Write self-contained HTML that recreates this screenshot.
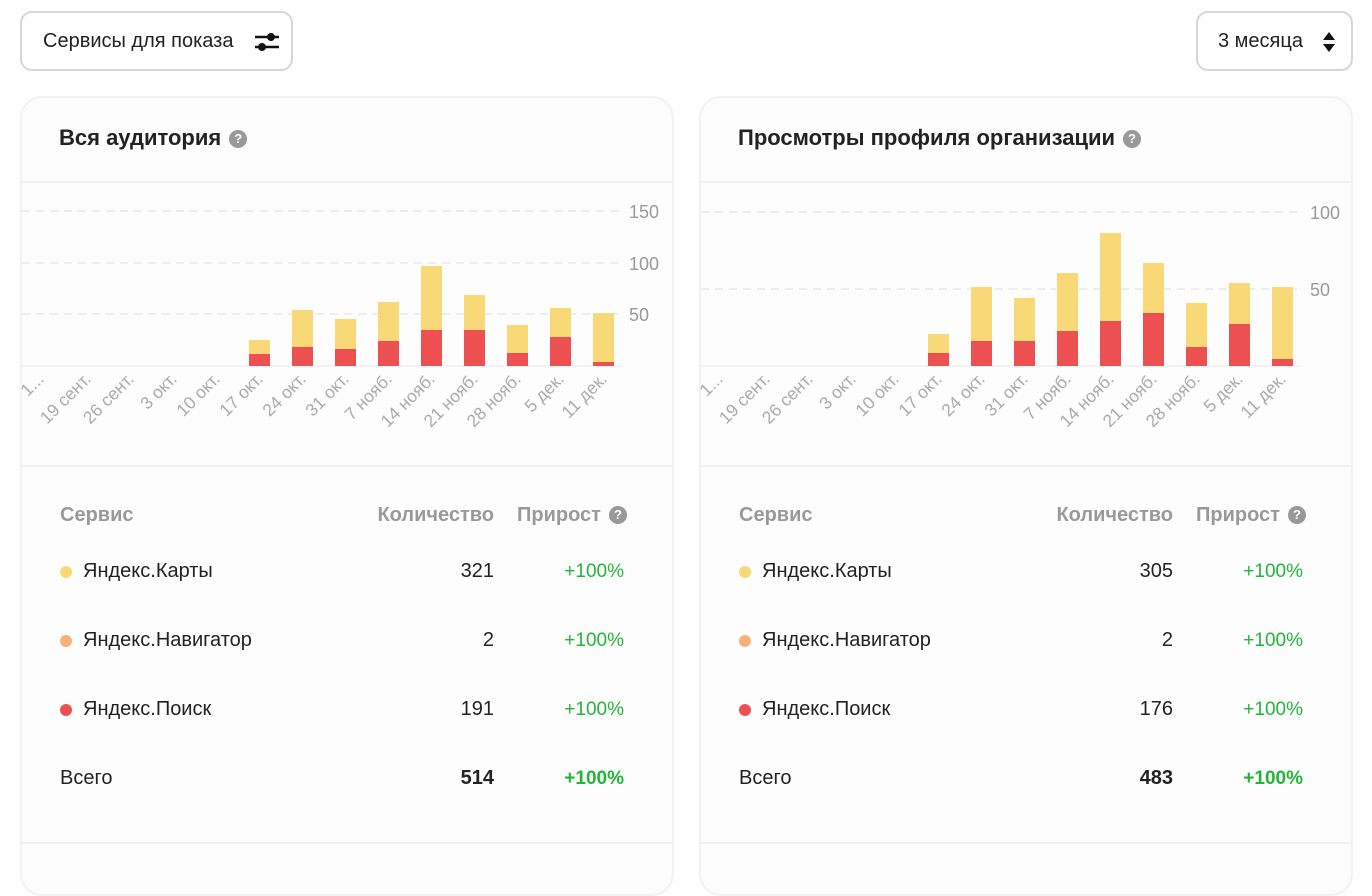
<!DOCTYPE html>
<html><head><meta charset="utf-8">
<style>
body{margin:0;width:1372px;height:858px;background:#fff;font-family:"Liberation Sans",sans-serif;position:relative;overflow:hidden;color:#222}
.btn{position:absolute;border:2px solid #d6d6d6;border-radius:12px;background:#fff;font-size:20px;box-sizing:border-box}
.panel{position:absolute;top:96px;width:654px;height:800px;border:2px solid #f2f2f2;border-radius:22px;box-sizing:border-box;background:#fdfdfd}
.hl{position:absolute;height:2px;background:#f0f0f0}
.t{position:absolute;white-space:nowrap}
.title{font-size:22px;font-weight:bold;color:#222;top:125px}
.q{display:inline-block;width:18px;height:18px;border-radius:50%;background:#999;color:#fff;font-size:13px;font-weight:bold;text-align:center;line-height:18px;vertical-align:2px;margin-left:8px}
.th{font-size:20px;font-weight:bold;color:#999;top:504px}
.row{font-size:20px;color:#222}
.g{color:#22b53a;font-size:19px}
.dot{position:absolute;width:12px;height:12px;border-radius:50%}
</style></head><body>
<div class="btn" style="left:20px;top:11px;width:273px;height:60px;line-height:56px;padding-left:21px">Сервисы для показа
<svg width="26" height="24" style="position:absolute;left:232px;top:17px"><line x1="1" y1="7" x2="25" y2="7" stroke="#111" stroke-width="2.5"/><circle cx="17" cy="7" r="4" fill="#111"/><line x1="1" y1="17" x2="25" y2="17" stroke="#111" stroke-width="2.5"/><circle cx="8" cy="17" r="4" fill="#111"/></svg></div>
<div class="btn" style="left:1196px;top:11px;width:157px;height:60px;line-height:56px;padding-left:20px">3 месяца
<svg width="14" height="24" style="position:absolute;left:124px;top:17px"><polygon points="7,2 13,10 1,10" fill="#111"/><polygon points="7,22 13,14 1,14" fill="#111"/></svg></div>

<div class="panel" style="left:20px"></div>
<div class="panel" style="left:699px"></div>
<div class="hl" style="left:22px;top:181px;width:650px"></div>
<div class="hl" style="left:701px;top:181px;width:650px"></div>
<div class="hl" style="left:22px;top:465px;width:650px"></div>
<div class="hl" style="left:701px;top:465px;width:650px"></div>
<div class="hl" style="left:22px;top:842px;width:650px"></div>
<div class="hl" style="left:701px;top:842px;width:650px"></div>

<div class="t title" style="left:59px">Вся аудитория<span class="q">?</span></div>
<div class="t title" style="left:738px">Просмотры профиля организации<span class="q">?</span></div>

<svg width="1372" height="858" style="position:absolute;left:0;top:0" font-family="Liberation Sans, sans-serif">
<g stroke="#e8e8e8" stroke-width="1.5" stroke-dasharray="8,6">
<line x1="22" y1="211" x2="622" y2="211"/><line x1="22" y1="263" x2="622" y2="263"/><line x1="22" y1="314" x2="622" y2="314"/>
<line x1="701" y1="212" x2="1300" y2="212"/><line x1="701" y1="289" x2="1300" y2="289"/>
</g>
<line x1="22" y1="366" x2="622" y2="366" stroke="#eee" stroke-width="1.5"/>
<line x1="701" y1="366" x2="1300" y2="366" stroke="#eee" stroke-width="1.5"/>
<g fill="#999" font-size="18">
<text x="629" y="218">150</text><text x="629" y="270">100</text><text x="629" y="321">50</text>
<text x="1310" y="219">100</text><text x="1310" y="296">50</text>
</g>
<g fill="#f9d977">
<rect x="249" y="340" width="21" height="26"/><rect x="292" y="310" width="21" height="56"/><rect x="335" y="319" width="21" height="47"/><rect x="378" y="302" width="21" height="64"/><rect x="421" y="266" width="21" height="100"/><rect x="464" y="295" width="21" height="71"/><rect x="507" y="325" width="21" height="41"/><rect x="550" y="308" width="21" height="58"/><rect x="593" y="313" width="21" height="53"/>
<rect x="928" y="334" width="21" height="32"/><rect x="971" y="287" width="21" height="79"/><rect x="1014" y="298" width="21" height="68"/><rect x="1057" y="273" width="21" height="93"/><rect x="1100" y="233" width="21" height="133"/><rect x="1143" y="263" width="21" height="103"/><rect x="1186" y="303" width="21" height="63"/><rect x="1229" y="283" width="21" height="83"/><rect x="1272" y="287" width="21" height="79"/>
</g>
<g fill="#ec5050">
<rect x="249" y="354" width="21" height="12"/><rect x="292" y="347" width="21" height="19"/><rect x="335" y="349" width="21" height="17"/><rect x="378" y="341" width="21" height="25"/><rect x="421" y="330" width="21" height="36"/><rect x="464" y="330" width="21" height="36"/><rect x="507" y="353" width="21" height="13"/><rect x="550" y="337" width="21" height="29"/><rect x="593" y="362" width="21" height="4"/>
<rect x="928" y="353" width="21" height="13"/><rect x="971" y="341" width="21" height="25"/><rect x="1014" y="341" width="21" height="25"/><rect x="1057" y="331" width="21" height="35"/><rect x="1100" y="321" width="21" height="45"/><rect x="1143" y="313" width="21" height="53"/><rect x="1186" y="347" width="21" height="19"/><rect x="1229" y="324" width="21" height="42"/><rect x="1272" y="359" width="21" height="7"/>
</g>
<g fill="#aaa" font-size="17.5" text-anchor="end">
<text transform="translate(45,380) rotate(-45)">1...</text>
<text transform="translate(92,380) rotate(-45)">19 сент.</text>
<text transform="translate(135,380) rotate(-45)">26 сент.</text>
<text transform="translate(178,380) rotate(-45)">3 окт.</text>
<text transform="translate(221,380) rotate(-45)">10 окт.</text>
<text transform="translate(264,380) rotate(-45)">17 окт.</text>
<text transform="translate(307,380) rotate(-45)">24 окт.</text>
<text transform="translate(350,380) rotate(-45)">31 окт.</text>
<text transform="translate(393,380) rotate(-45)">7 нояб.</text>
<text transform="translate(436,380) rotate(-45)">14 нояб.</text>
<text transform="translate(479,380) rotate(-45)">21 нояб.</text>
<text transform="translate(522,380) rotate(-45)">28 нояб.</text>
<text transform="translate(565,380) rotate(-45)">5 дек.</text>
<text transform="translate(608,380) rotate(-45)">11 дек.</text>
<text transform="translate(724,380) rotate(-45)">1...</text>
<text transform="translate(771,380) rotate(-45)">19 сент.</text>
<text transform="translate(814,380) rotate(-45)">26 сент.</text>
<text transform="translate(857,380) rotate(-45)">3 окт.</text>
<text transform="translate(900,380) rotate(-45)">10 окт.</text>
<text transform="translate(943,380) rotate(-45)">17 окт.</text>
<text transform="translate(986,380) rotate(-45)">24 окт.</text>
<text transform="translate(1029,380) rotate(-45)">31 окт.</text>
<text transform="translate(1072,380) rotate(-45)">7 нояб.</text>
<text transform="translate(1115,380) rotate(-45)">14 нояб.</text>
<text transform="translate(1158,380) rotate(-45)">21 нояб.</text>
<text transform="translate(1201,380) rotate(-45)">28 нояб.</text>
<text transform="translate(1244,380) rotate(-45)">5 дек.</text>
<text transform="translate(1287,380) rotate(-45)">11 дек.</text>
</g>
</svg>

<!-- left table -->
<div class="t th" style="left:60px">Сервис</div>
<div class="t th" style="right:878px">Количество</div>
<div class="t th" style="left:517px">Прирост<span class="q">?</span></div>
<div class="dot" style="left:60px;top:566px;background:#f9d977"></div>
<div class="dot" style="left:60px;top:635px;background:#f5b27a"></div>
<div class="dot" style="left:60px;top:704px;background:#ec5050"></div>
<div class="t row" style="left:83px;top:560px">Яндекс.Карты</div>
<div class="t row" style="left:83px;top:629px">Яндекс.Навигатор</div>
<div class="t row" style="left:83px;top:698px">Яндекс.Поиск</div>
<div class="t row" style="left:60px;top:767px">Всего</div>
<div class="t row" style="right:878px;top:560px">321</div>
<div class="t row" style="right:878px;top:629px">2</div>
<div class="t row" style="right:878px;top:698px">191</div>
<div class="t row" style="right:878px;top:767px;font-weight:bold">514</div>
<div class="t g" style="right:748px;top:561px">+100%</div>
<div class="t g" style="right:748px;top:630px">+100%</div>
<div class="t g" style="right:748px;top:699px">+100%</div>
<div class="t g" style="right:748px;top:768px;font-weight:bold">+100%</div>

<!-- right table -->
<div class="t th" style="left:739px">Сервис</div>
<div class="t th" style="right:199px">Количество</div>
<div class="t th" style="left:1196px">Прирост<span class="q">?</span></div>
<div class="dot" style="left:739px;top:566px;background:#f9d977"></div>
<div class="dot" style="left:739px;top:635px;background:#f5b27a"></div>
<div class="dot" style="left:739px;top:704px;background:#ec5050"></div>
<div class="t row" style="left:762px;top:560px">Яндекс.Карты</div>
<div class="t row" style="left:762px;top:629px">Яндекс.Навигатор</div>
<div class="t row" style="left:762px;top:698px">Яндекс.Поиск</div>
<div class="t row" style="left:739px;top:767px">Всего</div>
<div class="t row" style="right:199px;top:560px">305</div>
<div class="t row" style="right:199px;top:629px">2</div>
<div class="t row" style="right:199px;top:698px">176</div>
<div class="t row" style="right:199px;top:767px;font-weight:bold">483</div>
<div class="t g" style="right:69px;top:561px">+100%</div>
<div class="t g" style="right:69px;top:630px">+100%</div>
<div class="t g" style="right:69px;top:699px">+100%</div>
<div class="t g" style="right:69px;top:768px;font-weight:bold">+100%</div>
</body></html>
